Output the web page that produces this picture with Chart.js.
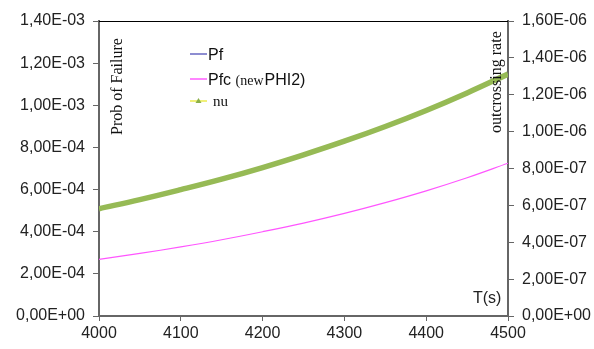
<!DOCTYPE html>
<html>
<head>
<meta charset="utf-8">
<script src="https://cdn.jsdelivr.net/npm/chart.js@4"></script>
<style>
    html, body { margin: 0; padding: 0; background: #fff; }
    #wrap { width: 594px; height: 349px; }
</style>
</head>
<body>
<div id="wrap"><canvas id="grafico" width="594" height="349"></canvas></div>
<script>
// valores
const tiempos = [4000, 4050, 4100, 4150, 4200, 4250, 4300, 4350, 4400, 4450, 4500];
const pf = [5.09e-4, 5.52e-4, 5.99e-4, 6.50e-4, 7.05e-4, 7.64e-4, 8.29e-4, 8.99e-4, 9.76e-4, 1.058e-3, 1.148e-3];
const pfc = [2.69e-4, 2.97e-4, 3.28e-4, 3.62e-4, 4.00e-4, 4.41e-4, 4.87e-4, 5.38e-4, 5.94e-4, 6.56e-4, 7.25e-4];
const nu = [5.82e-7, 6.31e-7, 6.85e-7, 7.42e-7, 8.05e-7, 8.74e-7, 9.48e-7, 10.28e-7, 11.15e-7, 12.10e-7, 13.12e-7];
const ticksX = [4000, 4100, 4200, 4300, 4400, 4500];

const SANS = "'Liberation Sans', Arial, sans-serif";
const SERIF = "'Liberation Serif', 'Times New Roman', serif";

function formatoE(v) {
    if (v === 0) return "0,00E+00";
    const partes = v.toExponential(2).split("e");
    const exp = parseInt(partes[1], 10);
    const signo = exp < 0 ? "-" : "+";
    return partes[0].replace(".", ",") + "E" + signo + String(Math.abs(exp)).padStart(2, "0");
}

function puntos(valores) {
    return tiempos.map((t, i) => ({ x: t, y: valores[i] }));
}

function linea(ctx, color, y) {
    ctx.strokeStyle = color;
    ctx.lineWidth = 1.3;
    ctx.beginPath();
    ctx.moveTo(190, y);
    ctx.lineTo(207, y);
    ctx.stroke();
}

const extras = {
    id: "extras",
    afterDraw(chart) {
        const ctx = chart.ctx;
        const a = chart.chartArea;
        ctx.save();

        // borde superior
        ctx.strokeStyle = "#000";
        ctx.lineWidth = 1;
        ctx.beginPath();
        ctx.moveTo(a.left, a.top + 0.5);
        ctx.lineTo(a.right, a.top + 0.5);
        ctx.stroke();

        ctx.fillStyle = "#111";

        // titulos verticales
        ctx.font = "16px " + SERIF;
        ctx.textBaseline = "middle";
        ctx.textAlign = "left";
        ctx.save();
        ctx.translate(118, 135);
        ctx.rotate(-Math.PI / 2);
        ctx.fillText("Prob of Failure", 0, 0);
        ctx.restore();

        ctx.save();
        ctx.translate(497, 133);
        ctx.rotate(-Math.PI / 2);
        ctx.fillText("outcrossing rate", 0, 0);
        ctx.restore();

        // T(s)
        ctx.font = "16px " + SANS;
        ctx.fillStyle = "#222";
        ctx.fillText("T(s)", 473, 299);

        // leyenda
        linea(ctx, "#5050b8", 54);
        linea(ctx, "#ff44ff", 79);
        linea(ctx, "#e8e830", 101);
        ctx.fillStyle = "#8cb04a";
        ctx.beginPath(); ctx.moveTo(198.5, 98); ctx.lineTo(201.5, 103); ctx.lineTo(195.5, 103); ctx.closePath(); ctx.fill();

        ctx.textBaseline = "alphabetic";
        ctx.fillStyle = "#111";
        ctx.font = "16px " + SANS;
        ctx.fillText("Pf", 208, 60);
        ctx.fillText("Pfc", 208, 85);
        let x = 208 + ctx.measureText("Pfc ").width;
        ctx.font = "14px " + SERIF;
        ctx.fillText("(new", x, 85);
        x += ctx.measureText("(new").width + 1;
        ctx.font = "16px " + SANS;
        ctx.fillText("PHI2)", x, 85);
        ctx.font = "15px " + SERIF;
        ctx.fillText("nu", 213, 106);

        ctx.restore();
    }
};

new Chart(document.getElementById("grafico"), {
    type: "line",
    data: {
        datasets: [
            {
                label: "nu",
                data: puntos(nu),
                yAxisID: "y2",
                borderColor: "#96ba55",
                borderWidth: 5.5,
                pointRadius: 0,
                tension: 0.4,
                order: 1
            },
            {
                label: "Pf",
                data: puntos(pf),
                yAxisID: "y",
                borderColor: "#4b4bb0",
                borderWidth: 1,
                pointRadius: 0,
                tension: 0.4,
                order: 2
            },
            {
                label: "Pfc (newPHI2)",
                data: puntos(pfc),
                yAxisID: "y",
                borderColor: "#ff55ff",
                borderWidth: 1.2,
                pointRadius: 0,
                tension: 0.4,
                order: 0
            }
        ]
    },
    options: {
        responsive: false,
        animation: false,
        layout: { padding: { top: 21, left: 0, right: 0, bottom: 0 } },
        plugins: {
            legend: { display: false },
            tooltip: { enabled: false }
        },
        scales: {
            x: {
                type: "linear",
                min: 4000,
                max: 4500,
                afterBuildTicks: s => { s.ticks = ticksX.map(v => ({ value: v })); },
                afterFit: s => { s.height = 33; },
                border: { color: "#666", width: 2 },
                grid: { drawOnChartArea: false, drawTicks: true, tickLength: 5, color: "#666" },
                ticks: {
                    color: "#222",
                    font: { family: SANS, size: 16 },
                    padding: 3,
                    maxRotation: 0,
                    callback: v => String(v)
                }
            },
            y: {
                position: "left",
                min: 0,
                max: 1.4e-3,
                afterFit: s => { s.width = 99; },
                border: { color: "#666", width: 2 },
                grid: { drawOnChartArea: false, drawTicks: true, tickLength: 6, color: "#666" },
                ticks: {
                    stepSize: 2e-4,
                    color: "#222",
                    font: { family: SANS, size: 16 },
                    padding: 8,
                    callback: v => formatoE(v)
                }
            },
            y2: {
                position: "right",
                min: 0,
                max: 1.6e-6,
                afterFit: s => { s.width = 86; },
                border: { color: "#666", width: 2 },
                grid: { drawOnChartArea: false, drawTicks: true, tickLength: 6, color: "#666" },
                ticks: {
                    stepSize: 2e-7,
                    color: "#222",
                    font: { family: SANS, size: 16 },
                    padding: 8,
                    callback: v => formatoE(v)
                }
            }
        }
    },
    plugins: [extras]
});
</script>
</body>
</html>
